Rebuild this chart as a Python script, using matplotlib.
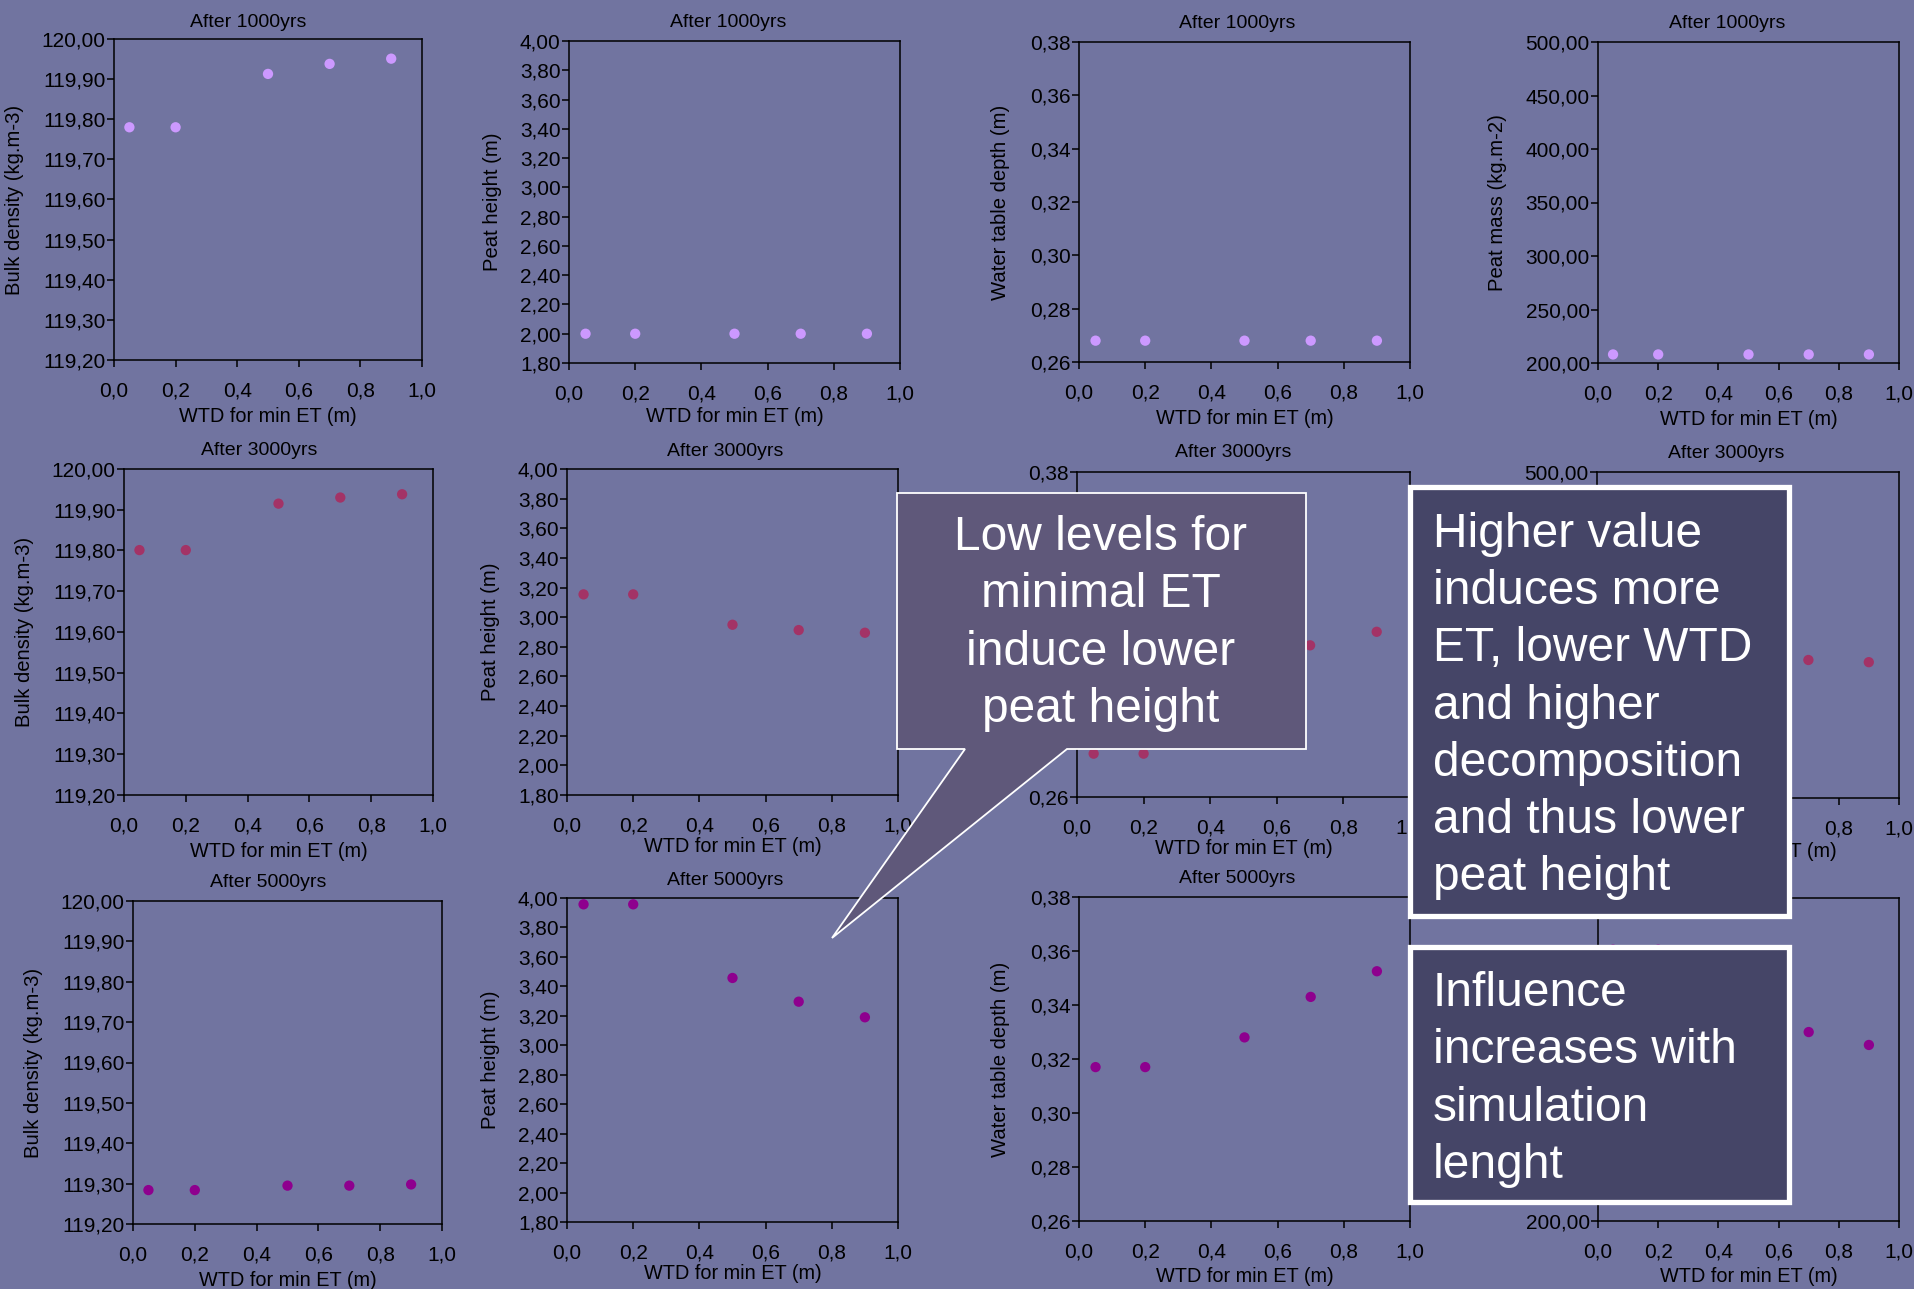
import matplotlib
matplotlib.use('Agg')
import matplotlib.pyplot as plt
from matplotlib.patches import Polygon, Rectangle
from matplotlib.ticker import FuncFormatter, MultipleLocator
from matplotlib.transforms import Bbox, TransformedBbox

plt.rcParams['font.family'] = ['Liberation Sans', 'DejaVu Sans']

W, H = 1915, 1289
BG = '#7174A0'

# ---------------- data ----------------
wtd_min_et = [0.05, 0.2, 0.5, 0.7, 0.9]
years = ['1000', '3000', '5000']

bulk_density_1000 = [119.780, 119.780, 119.913, 119.938, 119.951]
bulk_density_3000 = [119.801, 119.801, 119.915, 119.930, 119.938]
bulk_density_5000 = [119.284, 119.284, 119.295, 119.295, 119.298]

peat_height_1000 = [2.00, 2.00, 2.00, 2.00, 2.00]
peat_height_3000 = [3.154, 3.154, 2.949, 2.913, 2.895]
peat_height_5000 = [3.957, 3.957, 3.457, 3.296, 3.190]

water_table_1000 = [0.268, 0.268, 0.268, 0.268, 0.268]
water_table_3000 = [0.276, 0.276, 0.307, 0.316, 0.321]
water_table_5000 = [0.317, 0.317, 0.328, 0.343, 0.3525]

peat_mass_1000 = [208.0, 208.0, 208.0, 208.0, 208.0]
peat_mass_3000 = [353.0, 353.0, 330.0, 327.0, 325.0]
peat_mass_5000 = [452.0, 452.0, 394.0, 375.5, 363.5]

row_colors = ['#CC99FF', '#A33366', '#8E008E']

x_label = 'WTD for min ET (m)'
y_labels = ['Bulk density (kg.m-3)', 'Peat height (m)', 'Water table depth (m)', 'Peat mass (kg.m-2)']
y_limits = [(119.2, 120.0), (1.8, 4.0), (0.26, 0.38), (200, 500)]
y_steps = [0.1, 0.2, 0.02, 50]

series = [
    [bulk_density_1000, peat_height_1000, water_table_1000, peat_mass_1000],
    [bulk_density_3000, peat_height_3000, water_table_3000, peat_mass_3000],
    [bulk_density_5000, peat_height_5000, water_table_5000, peat_mass_5000],
]

# ---------------- layout (pixels) ----------------
axes_px = [
    [(114, 422, 39, 360), (569, 900, 41, 363), (1079, 1410, 42, 362), (1598, 1899, 42, 363)],
    [(124, 433, 469, 795), (567, 898, 469, 795), (1077, 1410, 472, 797), (1597, 1899, 472, 798)],
    [(133, 442, 901, 1224), (567, 898, 898, 1222), (1079, 1410, 897, 1221), (1598, 1899, 898, 1221)],
]
title_px = [
    [(248, 27), (728, 27), (1237, 28), (1727, 28)],
    [(259, 455), (725, 456), (1233, 457), (1726, 458)],
    [(268, 887), (725, 885), (1237, 883), (1726, 884)],
]
ylabel_x_px = [
    [15, 493, 1001, 1498],
    [25, 490, 1001, 1498],
    [34, 491, 1001, 1498],
]
xlabel_pads = [
    [4.5, 2.5, 4.5, 4.5],
    [4.5, 1.0, 1.0, 2.5],
    [4.5, 1.0, 4.0, 4.0],
]

fig = plt.figure(figsize=(W / 100, H / 100), dpi=100, facecolor=BG)


def fx(x):
    return x / W


def fy(y):
    return 1 - y / H


def comma_fmt(dec):
    return FuncFormatter(lambda v, p: f"{v:.{dec}f}".replace('.', ','))


for r in range(3):
    for c in range(4):
        l, rr, t, b = axes_px[r][c]
        ax = fig.add_axes([fx(l), fy(b), (rr - l) / W, (b - t) / H])
        ax.set_facecolor(BG)
        ax.scatter(wtd_min_et, series[r][c], s=55, color=row_colors[r],
                   edgecolors='none', zorder=3, clip_on=False)
        ax.set_xlim(0, 1.0)
        ax.set_ylim(*y_limits[c])
        ax.xaxis.set_major_locator(MultipleLocator(0.2))
        ax.yaxis.set_major_locator(MultipleLocator(y_steps[c]))
        ax.xaxis.set_major_formatter(comma_fmt(1))
        ax.yaxis.set_major_formatter(comma_fmt(2))
        for s in ax.spines.values():
            s.set_color('black')
            s.set_linewidth(1.1)
        ax.tick_params(axis='both', direction='out', length=5, width=1.1,
                       colors='black', labelsize=15)
        ax.tick_params(axis='y', pad=1)
        ax.tick_params(axis='x', pad=10.5)
        ax.set_xlabel(x_label, fontsize=14.3, labelpad=xlabel_pads[r][c])
        lab = ax.set_ylabel(y_labels[c], fontsize=14.6)
        lab.set_verticalalignment('center')
        ax.yaxis.set_label_coords((ylabel_x_px[r][c] - l) / (rr - l), 0.5)
        tx, ty = title_px[r][c]
        fig.text(fx(tx), fy(ty), f'After {years[r]}yrs', ha='center',
                 va='baseline', fontsize=14)
        if c == 0 and r in (0, 2):
            clip_top = 101 if r == 0 else 963
            lab.set_clip_box(TransformedBbox(Bbox([[0, 0], [1, fy(clip_top)]]),
                                             fig.transFigure))

# ---------------- annotation boxes ----------------
callout = [(897, 493), (1306, 493), (1306, 749), (1067, 749), (832, 938),
           (965, 749), (897, 749)]
fig.add_artist(Polygon([(fx(x), fy(y)) for x, y in callout], closed=True,
                       transform=fig.transFigure, facecolor='#5F587A',
                       edgecolor='white', linewidth=1.3, zorder=10))
callout_lines = ['Low levels for', 'minimal ET', 'induce lower', 'peat height']
for i, line in enumerate(callout_lines):
    fig.text(fx(1101), fy(550 + i * 57.4), line, ha='center', va='baseline',
             color='white', fontsize=34.5, zorder=11)

for (l, t, rr, b) in [(1410.5, 487.5, 1789.5, 915.5), (1410.5, 946.5, 1789.5, 1201.5)]:
    fig.add_artist(Rectangle((fx(l), fy(b)), (rr - l) / W, (b - t) / H,
                             transform=fig.transFigure, facecolor='#454567',
                             edgecolor='white', linewidth=3.8, zorder=10))

box1_lines = ['Higher value', 'induces more', 'ET, lower WTD', 'and higher',
              'decomposition', 'and thus lower', 'peat height']
for i, line in enumerate(box1_lines):
    fig.text(fx(1433), fy(547 + i * 57.2), line, ha='left', va='baseline',
             color='white', fontsize=34.5, zorder=11)

box2_lines = ['Influence', 'increases with', 'simulation', 'lenght']
for i, line in enumerate(box2_lines):
    fig.text(fx(1433), fy(1006 + i * 57.3), line, ha='left', va='baseline',
             color='white', fontsize=34.5, zorder=11)

fig.savefig('out.png', dpi=100, facecolor=BG)
